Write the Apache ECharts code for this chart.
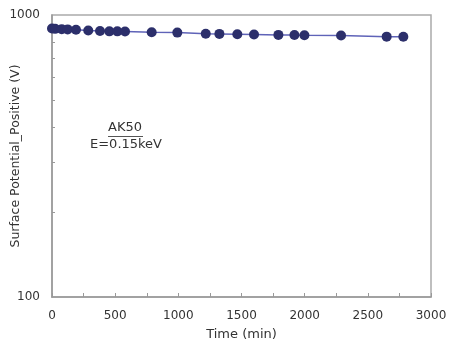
<!DOCTYPE html>
<html>
<head>
<meta charset="utf-8">
<script src="https://cdn.jsdelivr.net/npm/echarts@6/dist/echarts.min.js"></script>
<style>
  html, body { margin: 0; padding: 0; background: #fff; }
  #chart { width: 449px; height: 342px; }
</style>
</head>
<body>
<div id="chart"></div>
<script>
// 측정 시간 (min)
const times = [0, 25, 77, 124, 190, 287, 380, 454, 517, 578, 789, 992, 1217, 1325, 1467, 1599, 1792, 1919, 1998, 2288, 2649, 2781];
// 표면 전위 (V)
const potentials = [895, 893, 891, 889, 886, 881, 878, 875, 875, 874, 868, 866, 858, 857, 855, 853, 850, 849, 848, 846, 838, 837];
const xTicks = [0, 500, 1000, 1500, 2000, 2500, 3000];
const yTicks = [100, 1000];

const chart = echarts.init(document.getElementById('chart'));
const font = 'DejaVu Sans, sans-serif';

const option = {
  animation: false,
  grid: {
    left: 52, right: 18, top: 15, bottom: 45,
    outerBoundsMode: 'none', containLabel: false,
    show: true, borderColor: '#aaaaaa', borderWidth: 1.5, backgroundColor: '#fff'
  },
  xAxis: {
    type: 'value',
    min: xTicks[0], max: xTicks[xTicks.length - 1], interval: 500,
    name: 'Time (min)', nameLocation: 'middle', nameGap: 31, nameMoveOverlap: false,
    nameTextStyle: { fontFamily: font, fontSize: 13, color: '#333' },
    axisLine: { lineStyle: { color: '#999', width: 1.5 } },
    axisTick: { inside: true, length: 4, lineStyle: { color: '#999' } },
    minorTick: { show: true, splitNumber: 2, length: 4, lineStyle: { color: '#999' } },
    axisLabel: { fontFamily: font, fontSize: 12, color: '#333', margin: 13, formatter: (v) => String(v) },
    splitLine: { show: false }
  },
  yAxis: {
    type: 'log', logBase: 10,
    min: yTicks[0], max: yTicks[1],
    name: 'Surface Potential_Positive (V)', nameLocation: 'middle', nameGap: 30, nameMoveOverlap: false,
    nameTextStyle: { fontFamily: font, fontSize: 12.5, color: '#333' },
    axisLine: { show: true, lineStyle: { color: '#999', width: 1.5 } },
    axisTick: { show: false, inside: true },
    minorTick: { show: true, splitNumber: 9, length: 3, lineStyle: { color: '#999' } },
    axisLabel: { fontFamily: font, fontSize: 12, color: '#333', margin: 12, formatter: (v) => String(v) },
    splitLine: { show: false },
    minorSplitLine: { show: false }
  },
  series: [{
    type: 'line',
    data: times.map((t, i) => [t, potentials[i]]),
    symbol: 'circle', symbolSize: 10,
    itemStyle: { color: '#2c2f6b' },
    lineStyle: { color: '#5f63b8', width: 1.5 }
  }],
  graphic: [
    { type: 'text', left: 108, top: 121, style: { text: 'AK50', fontFamily: font, fontSize: 13, fill: '#333' } },
    { type: 'line', shape: { x1: 108, y1: 136.5, x2: 143, y2: 136.5 }, style: { stroke: '#555', lineWidth: 1 } },
    { type: 'text', left: 90, top: 138, style: { text: 'E=0.15keV', fontFamily: font, fontSize: 13, fill: '#333' } }
  ]
};

chart.setOption(option);
</script>
</body>
</html>
